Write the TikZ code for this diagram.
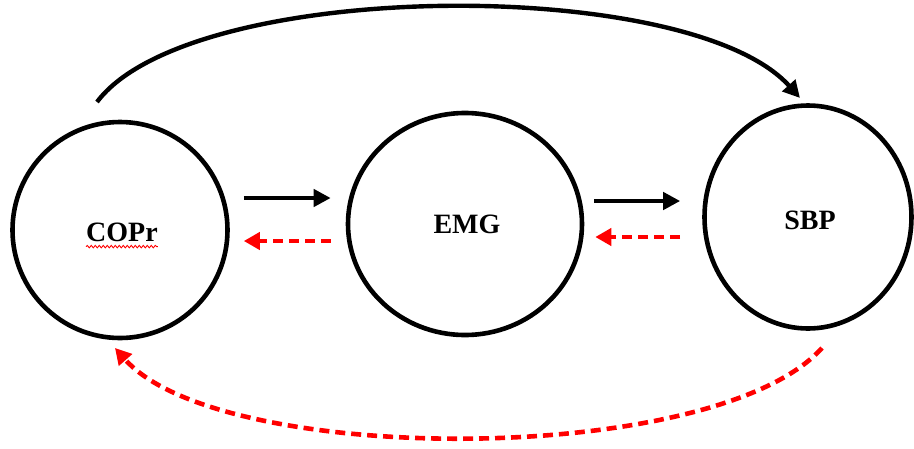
\documentclass[tikz,border=0pt]{standalone}
\usepackage{fontspec}
\setmainfont{Liberation Serif}
\usetikzlibrary{arrows.meta,calc,shapes.geometric,decorations.pathmorphing}
\begin{document}
\begin{tikzpicture}[x=1pt,y=-1pt,
  stage/.style={ellipse,draw=black,line width=4.6pt,inner sep=0pt},
  lbl/.style={inner sep=0pt,font=\bfseries\fontsize{28}{28}\selectfont},
  fwd/.style={draw=black,line width=4.4pt,-{Triangle[length=17pt,width=17pt]}},
  back/.style={draw=red,line width=4.6pt,dash pattern=on 10pt off 6pt,
    -{Triangle[length=16pt,width=17pt]}},
  squiggle/.style={draw=red,line width=0.9pt,decorate,
    decoration={snake,amplitude=1.2pt,segment length=4pt}}]
\useasboundingbox (0,0) rectangle (914,448);
\fill[white] (0,0) rectangle (914,448);

\node[stage,minimum width=215pt,minimum height=216pt] (copr) at (120,230) {};
\node[stage,minimum width=234pt,minimum height=222pt] (emg) at (465,224) {};
\node[stage,minimum width=207pt,minimum height=223pt] (sbp) at (808,217) {};

\node[lbl] (tcopr) at (122,232) {COPr};
\node[lbl] (temg) at (467,224) {EMG};
\node[lbl] (tsbp) at (810,220) {SBP};

% spell-check squiggle under COPr
\coordinate (sq1) at ($(tcopr.south west)+(0,5)$);
\coordinate (sq2) at ($(tcopr.south east)+(0,5)$);
\draw[squiggle] (sq1) -- (sq2);

% straight arrows
\draw[fwd]  ($(copr.east)+(14,-32)$) -- ($(emg.west)+(-15,-26)$);
\draw[back] ($(emg.west)+(-15,17)$) -- ($(copr.east)+(14,11)$);
\draw[fwd]  ($(emg.east)+(10,-23)$) -- ($(sbp.west)+(-22,-16)$);
\draw[back] ($(sbp.west)+(-22,20)$) -- ($(emg.east)+(11,13)$);

% long arcs
\coordinate (ts) at ($(copr.center)+(-23,-128)$);
\coordinate (te) at ($(sbp.center)+(-8,-119)$);
\draw[fwd] (ts) .. controls (190,-22) and (690,-25) .. (te);

\coordinate (bs) at ($(sbp.center)+(14,131)$);
\coordinate (be) at ($(copr.center)+(-5,118)$);
\draw[back] (bs) .. controls (715,467) and (220,467) .. (be);
\end{tikzpicture}
\end{document}
